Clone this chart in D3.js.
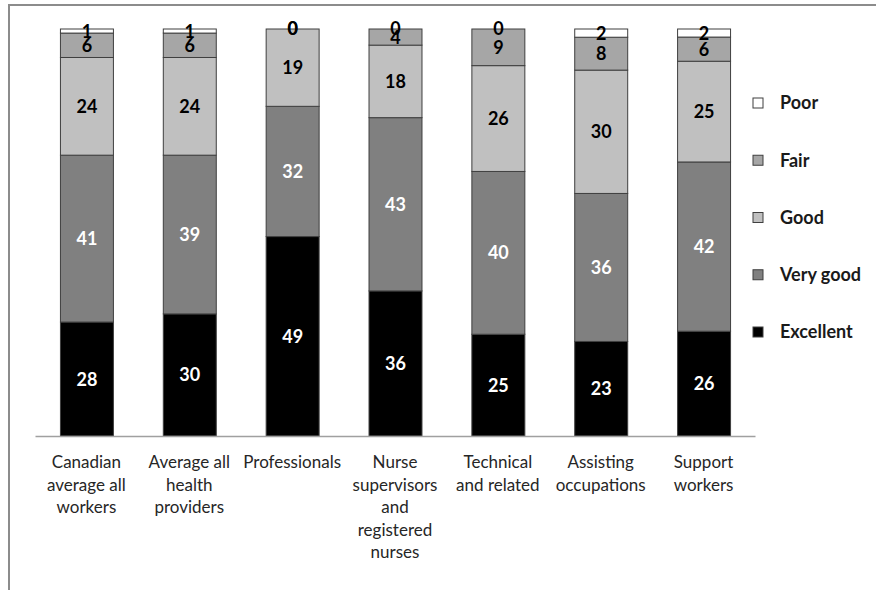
<!DOCTYPE html>
<html>
<head>
<meta charset="utf-8">
<script src="https://cdn.jsdelivr.net/npm/d3@7"></script>
<style>
  html, body { margin: 0; padding: 0; background: #fff; }
  svg { display: block; font-family: Lato, "Open Sans", sans-serif; }
</style>
</head>
<body>
<svg id="chart" width="876" height="590"></svg>
<script>
// Self-rated health by occupation group (percent of each group)
const categories = [
  ["Canadian", "average all", "workers"],
  ["Average all", "health", "providers"],
  ["Professionals"],
  ["Nurse", "supervisors", "and", "registered", "nurses"],
  ["Technical", "and related"],
  ["Assisting", "occupations"],
  ["Support", "workers"]
];
const ratings = ["Excellent", "Very good", "Good", "Fair", "Poor"];
const excellent = [28, 30, 49, 36, 25, 23, 26];
const veryGood  = [41, 39, 32, 43, 40, 36, 42];
const good      = [24, 24, 19, 18, 26, 30, 25];
const fair      = [6, 6, 0, 4, 9, 8, 6];
const poor      = [1, 1, 0, 0, 0, 2, 2];

const seriesValues = [excellent, veryGood, good, fair, poor];
const fills = ["#000000", "#808080", "#c0c0c0", "#a6a6a6", "#ffffff"];
const labelColors = ["#ffffff", "#ffffff", "#000000", "#000000", "#000000"];

const rows = categories.map((c, i) => {
  const r = { key: i };
  ratings.forEach((s, k) => { r[s] = seriesValues[k][i]; });
  return r;
});

// 100% stacked columns
const stack = d3.stack().keys(ratings).offset(d3.stackOffsetExpand);
const layers = stack(rows);

const svg = d3.select("#chart");

// outer frame
svg.append("path")
  .attr("d", "M9,590 V5 H876")
  .attr("fill", "none")
  .attr("stroke", "#8c8c8c")
  .attr("stroke-width", 2);

const x = d3.scaleBand()
  .domain(rows.map(r => r.key))
  .range([35, 755])
  .paddingInner(0.485)
  .paddingOuter(0.2425);

const y = d3.scaleLinear().domain([0, 1]).range([436, 29]);

const g = svg.append("g");

layers.forEach((layer, k) => {
  g.selectAll(null)
    .data(layer)
    .join("rect")
    .attr("x", (d, i) => x(i) + 0.5)
    .attr("y", d => y(d[1]))
    .attr("width", x.bandwidth())
    .attr("height", d => y(d[0]) - y(d[1]))
    .attr("fill", fills[k])
    .attr("stroke", "#3f3f3f")
    .attr("stroke-width", 1);
});

layers.forEach((layer, k) => {
  g.selectAll(null)
    .data(layer)
    .join("text")
    .attr("x", (d, i) => x(i) + x.bandwidth() / 2 + 0.5)
    .attr("y", d => (y(d[0]) + y(d[1])) / 2)
    .attr("dy", "0.36em")
    .attr("text-anchor", "middle")
    .attr("font-size", 18)
    .attr("font-weight", "bold")
    .attr("fill", labelColors[k])
    .text((d, i) => seriesValues[k][i]);
});

// category axis
const axis = svg.append("g")
  .attr("transform", "translate(0,436)")
  .call(d3.axisBottom(x).tickSize(0).tickFormat(""));
axis.select(".domain").attr("stroke", "#a0a0a0").attr("stroke-width", 1.5);

const lbl = svg.append("g");
rows.forEach((r, i) => {
  const cx = x(i) + x.bandwidth() / 2;
  const t = lbl.append("text")
    .attr("x", cx)
    .attr("y", 468)
    .attr("text-anchor", "middle")
    .attr("font-size", 17)
    .attr("fill", "#262626");
  categories[i].forEach((line, j) => {
    t.append("tspan")
      .attr("x", cx)
      .attr("dy", j === 0 ? 0 : 22.5)
      .text(line);
  });
});

// legend (Poor on top)
const legendOrder = ratings.map((s, k) => k).reverse();
const ly = d3.scalePoint().domain(legendOrder).range([103, 332]);
const legend = svg.append("g");
legendOrder.forEach(k => {
  const row = legend.append("g").attr("transform", `translate(753,${ly(k)})`);
  row.append("rect")
    .attr("x", 0).attr("y", -5)
    .attr("width", 10).attr("height", 10)
    .attr("fill", fills[k])
    .attr("stroke", "#3f3f3f");
  row.append("text")
    .attr("x", 27).attr("y", 0).attr("dy", "0.36em")
    .attr("font-size", 18)
    .attr("font-weight", "bold")
    .attr("fill", "#1a1a1a")
    .text(ratings[k]);
});
</script>
</body>
</html>
